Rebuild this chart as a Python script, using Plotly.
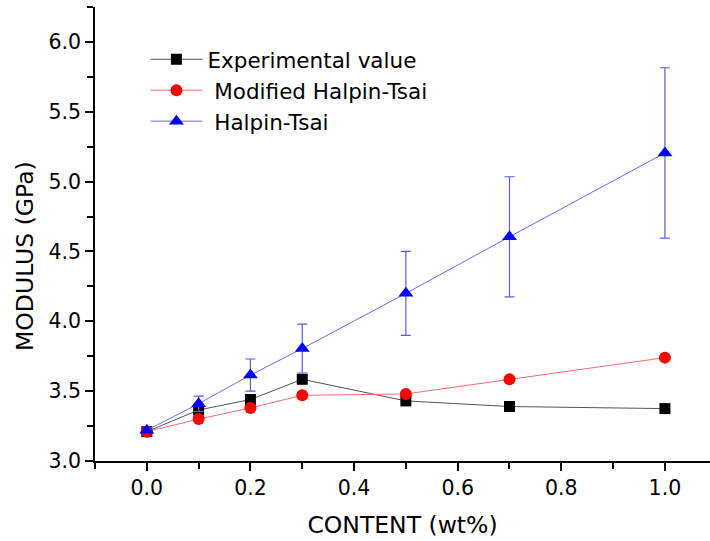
import plotly.graph_objects as go

content = [0.0, 0.1, 0.2, 0.3, 0.5, 0.7, 1.0]
experimental = [3.21, 3.365, 3.44, 3.585, 3.43, 3.39, 3.375]
modified_ht = [3.21, 3.30, 3.38, 3.47, 3.48, 3.585, 3.74]
halpin_tsai = [3.22, 3.41, 3.615, 3.805, 4.20, 4.605, 5.205]
halpin_err = [0.0, 0.055, 0.115, 0.175, 0.30, 0.43, 0.61]

FONT = "DejaVu Sans"

fig = go.Figure()
fig.add_trace(go.Scatter(
    x=content, y=experimental, mode="lines+markers", name="Experimental value",
    line=dict(color="#555555", width=1),
    marker=dict(symbol="square", size=11, color="black"),
))
fig.add_trace(go.Scatter(
    x=content, y=modified_ht, mode="lines+markers", name=" Modified Halpin-Tsai",
    line=dict(color="#ff6b6b", width=1),
    marker=dict(symbol="circle", size=12, color="#ff0000"),
))
fig.add_trace(go.Scatter(
    x=content, y=halpin_tsai, mode="lines+markers", name=" Halpin-Tsai",
    line=dict(color="#6b6bff", width=1),
    marker=dict(symbol="triangle-up", size=13, color="#0000ff"),
    error_y=dict(type="data", array=halpin_err, visible=True,
                 color="#5a5aee", thickness=1.2, width=5),
))

axis_common = dict(
    showline=True, linecolor="black", linewidth=1.5,
    ticks="outside", ticklen=8, tickwidth=1.5, tickcolor="black",
    showgrid=False, zeroline=False, mirror=False,
    tickfont=dict(family=FONT, size=20.5, color="black"),
)

fig.update_xaxes(
    range=[-0.1, 1.087], tickmode="array",
    tickvals=[0.0, 0.2, 0.4, 0.6, 0.8, 1.0],
    ticktext=["0.0", "0.2", "0.4", "0.6", "0.8", "1.0"],
    minor=dict(tickvals=[-0.1, 0.1, 0.3, 0.5, 0.7, 0.9], ticks="outside",
               ticklen=6, tickwidth=1.5, tickcolor="black"),
    title=dict(text="CONTENT (wt%)", font=dict(family=FONT, size=23.5, color="black"),
               standoff=17),
    **axis_common,
)
fig.update_yaxes(
    range=[3.0, 6.25], tickmode="array",
    tickvals=[3.0, 3.5, 4.0, 4.5, 5.0, 5.5, 6.0],
    ticktext=["3.0", "3.5", "4.0", "4.5", "5.0", "5.5", "6.0"],
    minor=dict(tickvals=[3.25, 3.75, 4.25, 4.75, 5.25, 5.75, 6.25], ticks="outside",
               ticklen=6, tickwidth=1.5, tickcolor="black"),
    **axis_common,
)

fig.add_annotation(
    text="MODULUS (GPa)", textangle=-90, showarrow=False,
    xref="paper", yref="paper", x=-0.114, y=0.4515,
    xanchor="center", yanchor="middle",
    font=dict(family=FONT, size=23.5, color="black"),
)

fig.update_layout(
    width=710, height=541,
    margin=dict(l=95, r=0, t=7, b=80),
    paper_bgcolor="white", plot_bgcolor="white",
    showlegend=True,
    legend=dict(
        x=0.082, y=0.93, xanchor="left", yanchor="top",
        bgcolor="rgba(0,0,0,0)", borderwidth=0,
        font=dict(family=FONT, size=21.5, color="black"),
        itemwidth=52, tracegroupgap=0,
    ),
    font=dict(family=FONT, color="black"),
)

fig.write_html("out.html")
